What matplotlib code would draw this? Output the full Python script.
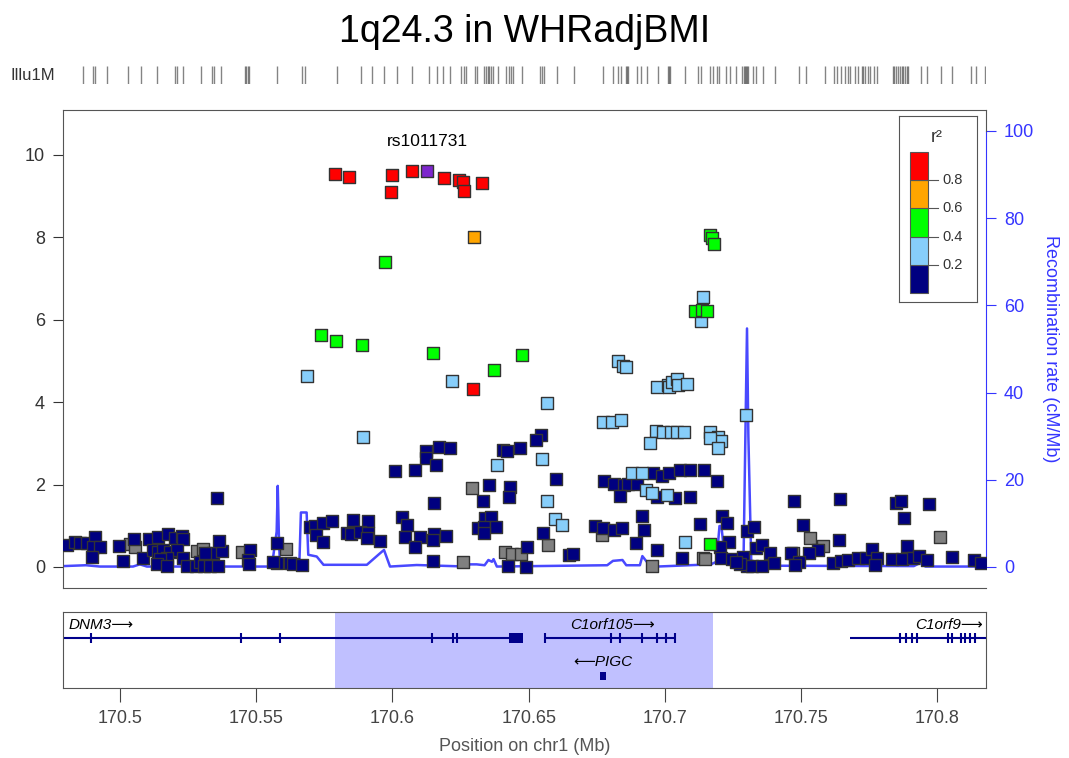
import matplotlib
matplotlib.use("Agg")
import matplotlib.pyplot as plt
from matplotlib.patches import Rectangle

plt.rcParams['font.family'] = ['Liberation Sans', 'DejaVu Sans']

# ---- data (position in Mb, -log10 p) ----
lead_pos = [170.6127]
lead_logp = [9.61]
lead_name = "rs1011731"

red_pos = [170.5789, 170.5840, 170.5998, 170.5995, 170.6072, 170.6189, 170.6244, 170.6259,
           170.6262, 170.6329, 170.6296]
red_logp = [9.54, 9.47, 9.51, 9.10, 9.61, 9.44, 9.39, 9.35, 9.13, 9.32, 4.32]

orange_pos = [170.6299]
orange_logp = [8.01]

green_pos = [170.5973, 170.5738, 170.5793, 170.5888, 170.6149, 170.6475, 170.6373, 170.7165,
             170.7173, 170.7180, 170.7110, 170.7136, 170.7154, 170.7165]
green_logp = [7.40, 5.63, 5.49, 5.39, 5.19, 5.15, 4.78, 8.06, 7.99, 7.84, 6.21, 6.24, 6.21, 0.56]

lblue_pos = [170.5686, 170.6218, 170.6567, 170.5892, 170.6384, 170.6549, 170.6567, 170.6596,
             170.6622, 170.6828, 170.6846, 170.6857, 170.6971, 170.7011, 170.7015, 170.7026,
             170.7044, 170.7048, 170.7081, 170.6773, 170.6806, 170.6839, 170.6967, 170.6993,
             170.7022, 170.7044, 170.7070, 170.6945, 170.7165, 170.7195, 170.7206, 170.7165,
             170.7195, 170.7297, 170.7140, 170.7132, 170.6879, 170.6916, 170.6930, 170.6952,
             170.7007, 170.7074]
lblue_logp = [4.64, 4.51, 3.98, 3.16, 2.48, 2.62, 1.60, 1.17,
              1.02, 5.00, 4.88, 4.85, 4.37, 4.42, 4.37, 4.49,
              4.56, 4.42, 4.44, 3.52, 3.52, 3.57, 3.30, 3.28,
              3.28, 3.28, 3.28, 3.01, 3.28, 3.16, 3.06, 3.13,
              2.89, 3.69, 6.55, 5.97, 2.28, 2.28, 1.87, 1.80,
              1.75, 0.61]

gray_pos = [170.6292, 170.6571, 170.6413, 170.6439, 170.6472, 170.6259, 170.6769, 170.6952,
            170.7140, 170.7147, 170.7532, 170.7580, 170.8009, 170.7470, 170.5037, 170.5055,
            170.5283, 170.5305, 170.5448, 170.5609]
gray_logp = [1.92, 0.53, 0.36, 0.32, 0.32, 0.12, 0.78, 0.02,
             0.22, 0.19, 0.71, 0.51, 0.72, 0.35, 0.56, 0.49,
             0.40, 0.43, 0.37, 0.43]

navy_pos = [170.4806, 170.4835, 170.4853, 170.4879, 170.4908, 170.4901, 170.4927, 170.4897,
            170.4996, 170.5011, 170.5051, 170.5084, 170.5106, 170.5139, 170.5176, 170.5202,
            170.5228, 170.5231, 170.5121, 170.5139, 170.5158, 170.5184, 170.5209, 170.5172,
            170.5147, 170.5136, 170.5172, 170.5231, 170.5246, 170.5279, 170.5294, 170.5308,
            170.5330, 170.5360, 170.5341, 170.5374, 170.5363, 170.5312, 170.5356, 170.5477,
            170.5470, 170.5473, 170.5576, 170.5576, 170.5562, 170.5624, 170.5635, 170.5668,
            170.5697, 170.5716, 170.5745, 170.5778, 170.5719, 170.5745,
            170.5855, 170.5910, 170.5833, 170.5848, 170.5881, 170.5910, 170.5906, 170.5954,
            170.6035, 170.6053, 170.6046, 170.6101, 170.6083, 170.6152, 170.6149, 170.6196,
            170.6149, 170.6009, 170.6123, 170.6171, 170.6211, 170.6123, 170.6160, 170.6083,
            170.6545, 170.6527, 170.6406, 170.6420, 170.6468, 170.6600, 170.6354, 170.6431,
            170.6428, 170.6332, 170.6152, 170.6552, 170.6340, 170.6362, 170.6314, 170.6336,
            170.6380, 170.6336, 170.6494, 170.6424, 170.6490,
            170.6776, 170.6813, 170.6850, 170.6864, 170.6897, 170.6956, 170.6989, 170.7015,
            170.7055, 170.7092, 170.7143, 170.7191, 170.6971, 170.7037, 170.7092, 170.6835,
            170.6916, 170.6923, 170.6894, 170.6971, 170.7063, 170.6743, 170.6773, 170.6813,
            170.6842, 170.6648, 170.6663, 170.7129, 170.7209, 170.7228, 170.7235, 170.7202,
            170.7206, 170.7246, 170.7286, 170.7301, 170.7327, 170.7301, 170.7319, 170.7334,
            170.7356, 170.7386, 170.7400, 170.7356, 170.7275, 170.7261,
            170.7474, 170.7642, 170.7848, 170.7866, 170.7969, 170.7877, 170.7507, 170.7639,
            170.7562, 170.7529, 170.7463, 170.7492, 170.7477, 170.7617, 170.7646, 170.7672,
            170.7708, 170.7738, 170.7760, 170.7778, 170.7771, 170.7833, 170.7870, 170.7888,
            170.7910, 170.7932, 170.7962, 170.8053, 170.8134, 170.8160]
navy_logp = [0.53, 0.61, 0.58, 0.58, 0.72, 0.49, 0.49, 0.25,
             0.51, 0.15, 0.67, 0.21, 0.68, 0.72, 0.80, 0.70,
             0.76, 0.67, 0.41, 0.37, 0.41, 0.37, 0.41, 0.23,
             0.19, 0.07, 0.02, 0.23, 0.02, 0.02, 0.12, 0.02,
             0.02, 0.02, 0.35, 0.39, 0.63, 0.35, 1.68, 0.41,
             0.17, 0.07, 0.59, 0.09, 0.12, 0.10, 0.07, 0.05,
             0.98, 1.00, 1.06, 1.12, 0.78, 0.61,
             1.14, 1.12, 0.83, 0.80, 0.85, 0.83, 0.70, 0.63,
             1.21, 1.02, 0.73, 0.73, 0.49, 0.80, 0.66, 0.75,
             0.15, 2.33, 2.82, 2.91, 2.89, 2.65, 2.48, 2.35,
             3.20, 3.08, 2.84, 2.82, 2.89, 2.13, 1.99, 1.94,
             1.70, 1.60, 1.55, 0.83, 1.19, 1.21, 0.95, 0.97,
             0.97, 0.83, 0.49, 0.02, 0.00,
             2.09, 2.01, 1.99, 2.01, 2.01, 2.28, 2.21, 2.28,
             2.35, 2.35, 2.35, 2.09, 1.70, 1.67, 1.70, 1.72,
             1.24, 0.90, 0.58, 0.41, 0.22, 1.00, 0.95, 0.90,
             0.95, 0.29, 0.32, 1.04, 1.24, 1.07, 0.61, 0.49,
             0.22, 0.19, 0.25, 0.87, 0.98, 0.02, 0.02, 0.45,
             0.53, 0.33, 0.10, 0.02, 0.07, 0.12,
             1.60, 1.65, 1.56, 1.61, 1.54, 1.18, 1.01, 0.66,
             0.41, 0.33, 0.35, 0.13, 0.05, 0.09, 0.15, 0.17,
             0.21, 0.23, 0.44, 0.23, 0.05, 0.19, 0.19, 0.51,
             0.23, 0.27, 0.17, 0.25, 0.17, 0.09]

# recombination rate (cM/Mb)
recomb_pos = [170.4791, 170.4875, 170.4927, 170.5048, 170.5073, 170.5099, 170.5557, 170.5563,
              170.5575, 170.5579, 170.5584, 170.5588, 170.5658, 170.5664, 170.5685, 170.5691,
              170.5722, 170.5747, 170.5906, 170.5961, 170.5969, 170.5991, 170.6089, 170.6273,
              170.6285, 170.6309, 170.6338, 170.6352, 170.6365, 170.6371, 170.6383, 170.6788,
              170.6809, 170.6844, 170.6858, 170.6908, 170.6917, 170.6943, 170.6971, 170.7168,
              170.7189, 170.7200, 170.7207, 170.7218, 170.7233, 170.7288, 170.7295, 170.7301,
              170.7306, 170.7317, 170.7913, 170.7935, 170.7956, 170.8178]
recomb_rate = [0.2, 0.4, 0.1, 0.1, 0.6, 0.1, 0.1, 2.7,
               8.1, 18.6, 5.0, 0.1, 0.1, 12.5, 12.5, 2.8,
               2.4, 0.5, 0.5, 3.5, 3.9, 0.1, 0.45, 0.1,
               0.6, 0.6, 0.4, 1.6, 1.2, 1.8, 0.1, 0.4,
               1.4, 1.6, 0.4, 0.4, 2.5, 0.4, 0.1, 0.6,
               1.2, 9.4, 9.4, 3.0, 0.8, 0.5, 30.0, 54.7,
               30.0, 0.3, 0.2, 0.9, 0.1, 0.1]

# Illumina 1M array SNP positions
illu_pos = [170.4864, 170.4900, 170.4909, 170.4951, 170.5029, 170.5078, 170.5137, 170.5201,
            170.5210, 170.5233, 170.5296, 170.5337, 170.5344, 170.5370, 170.5459, 170.5464,
            170.5469, 170.5474, 170.5575, 170.5668, 170.5680, 170.5798, 170.5883, 170.5925,
            170.5969, 170.6017, 170.6071, 170.6134, 170.6162, 170.6185, 170.6210, 170.6252,
            170.6261, 170.6268, 170.6302, 170.6312, 170.6337, 170.6344, 170.6350, 170.6356,
            170.6363, 170.6369, 170.6386, 170.6416, 170.6427, 170.6436, 170.6442, 170.6477,
            170.6543, 170.6549, 170.6555, 170.6604, 170.6666, 170.6771, 170.6809, 170.6828,
            170.6837, 170.6857, 170.6862, 170.6866, 170.6898, 170.6911, 170.6933, 170.6974,
            170.7012, 170.7016, 170.7018, 170.7073, 170.7120, 170.7132, 170.7164, 170.7177,
            170.7190, 170.7200, 170.7225, 170.7238, 170.7259, 170.7281, 170.7291, 170.7295,
            170.7299, 170.7302, 170.7306, 170.7323, 170.7335, 170.7361, 170.7402, 170.7491,
            170.7519, 170.7586, 170.7621, 170.7633, 170.7646, 170.7659, 170.7671, 170.7678,
            170.7697, 170.7707, 170.7722, 170.7728, 170.7735, 170.7745, 170.7754, 170.7766,
            170.7779, 170.7836, 170.7842, 170.7849, 170.7855, 170.7862, 170.7868, 170.7874,
            170.7881, 170.7887, 170.7893, 170.7938, 170.7961, 170.8014, 170.8054, 170.8122,
            170.8143, 170.8175]

# genes
dnm3_span = (170.4700, 170.6480)
dnm3_exons = [170.4892, 170.5443, 170.5586, 170.6144, 170.6223, 170.6238]
dnm3_utr = (170.6429, 170.6480)
c1orf105_span = (170.6560, 170.7037)
c1orf105_exons = [170.6560, 170.6802, 170.6835, 170.6915, 170.6972, 170.7004, 170.7037]
pigc_span = (170.6762, 170.6784)
c1orf9_span = (170.7679, 170.8300)
c1orf9_exons = [170.7863, 170.7883, 170.7906, 170.7924, 170.8040, 170.8052, 170.8085,
                170.8101, 170.8120, 170.8138]
highlight = (170.5789, 170.7176)

xticks = [170.5, 170.55, 170.6, 170.65, 170.7, 170.75, 170.8]
xtick_labels = ['170.5', '170.55', '170.6', '170.65', '170.7', '170.75', '170.8']
r2_breaks = [0.2, 0.4, 0.6, 0.8]
r2_colors = ['#000080', '#87CEFA', '#00FF00', '#FFA500', '#FF0000']

XLIM = (170.4791, 170.8178)
W, H = 1069, 758


def box(l, t, r, b):
    return [l / W, 1 - b / H, (r - l) / W, (b - t) / H]


fig = plt.figure(figsize=(W / 100, H / 100), dpi=100)
frame_col = '#555555'
blue = '#3535FF'

# ---- main panel ----
ax = fig.add_axes(box(63, 110, 986, 588))
ax2 = ax.twinx()
ax.set_zorder(ax2.get_zorder() + 1)
ax.patch.set_visible(False)

ax2.plot(recomb_pos, recomb_rate, color=blue, lw=1.8, alpha=0.9)
ax2.set_ylim(-4.82, 104.8)
ax2.set_yticks([0, 20, 40, 60, 80, 100])
ax2.tick_params(axis='y', colors=blue, labelsize=13, length=7, pad=6)
for s in ['left', 'top', 'bottom']:
    ax2.spines[s].set_visible(False)
ax2.spines['right'].set_color(blue)
ax2.spines['right'].set_bounds(0, 100)
ax2.set_ylabel('Recombination rate (cM/Mb)', color=blue, fontsize=13,
               rotation=270, labelpad=18)

mk = dict(marker='s', s=85, edgecolors='#333333', linewidths=1.0)
ax.scatter(gray_pos, gray_logp, c='#808080', zorder=3, **mk)
ax.scatter(navy_pos, navy_logp, c=r2_colors[0], zorder=3, **mk)
ax.scatter(lblue_pos, lblue_logp, c=r2_colors[1], zorder=4, **mk)
ax.scatter(green_pos, green_logp, c=r2_colors[2], zorder=5, **mk)
ax.scatter(orange_pos, orange_logp, c=r2_colors[3], zorder=6, **mk)
ax.scatter(red_pos, red_logp, c=r2_colors[4], zorder=7, **mk)
ax.scatter(lead_pos, lead_logp, c='#7D26CD', zorder=8, **mk)
ax.annotate(lead_name, (lead_pos[0], lead_logp[0]), xytext=(0, 21),
            textcoords='offset points', ha='center', va='center', fontsize=12.5)

ax.set_xlim(XLIM)
ylo, yhi = -0.51, 11.09
ax.set_ylim(ylo, yhi)
ax.set_xticks([])
ax.set_yticks([0, 2, 4, 6, 8, 10])
ax.tick_params(axis='y', labelsize=13, labelcolor='#333333', color='#333333', length=7, pad=6)
for s in ax.spines.values():
    s.set_color(frame_col)
ax.spines['right'].set_bounds(ylo + (100 + 4.82) / (104.8 + 4.82) * (yhi - ylo), yhi)

# ---- legend ----
leg = fig.add_axes(box(899, 116, 977, 302))
leg.set_xlim(0, 1)
leg.set_ylim(-0.061, 1.252)
leg.set_xticks([])
leg.set_yticks([])
for s in leg.spines.values():
    s.set_color(frame_col)
for i, col in enumerate(r2_colors):
    leg.add_patch(Rectangle((0.141, i * 0.2), 0.235, 0.2, facecolor=col,
                            edgecolor='#555555', lw=0.8))
for v in r2_breaks:
    leg.plot([0.376, 0.5], [v, v], color='#555555', lw=0.8)
    leg.text(0.56, v, f'{v:.1f}', va='center', ha='left', fontsize=10.5, color='#333333')
leg.text(0.49, 1.10, 'r²', ha='center', va='center', fontsize=13, color='#333333')

# ---- Illumina 1M track ----
ill = fig.add_axes(box(63, 66, 986, 84))
ill.set_xlim(XLIM)
ill.set_ylim(0, 1)
ill.vlines(illu_pos, 0, 1, color='#333333', alpha=0.6, lw=1.0)
ill.axis('off')
fig.text(10 / W, 1 - 75 / H, 'Illu1M', fontsize=12, va='center', ha='left', color='#333333')

# ---- gene panel ----
gax = fig.add_axes(box(63, 612, 986, 688))
gax.set_xlim(XLIM)
gax.set_ylim(0, 1)
gax.axvspan(*highlight, color='#C0C0FF', zorder=0, lw=0)
gcol = '#00008B'
ytop, ybot = 0.658, 0.158
eh = 0.068


def draw_gene(span, exons, y):
    gax.plot(span, [y, y], color=gcol, lw=1.5, solid_capstyle='butt')
    gax.vlines(exons, y - eh, y + eh, color=gcol, lw=1.5)


draw_gene(dnm3_span, dnm3_exons, ytop)
gax.add_patch(Rectangle((dnm3_utr[0], ytop - eh), dnm3_utr[1] - dnm3_utr[0], 2 * eh,
                        color=gcol, lw=0))
draw_gene(c1orf105_span, c1orf105_exons, ytop)
draw_gene(c1orf9_span, c1orf9_exons, ytop)
gax.add_patch(Rectangle((pigc_span[0], ybot - eh / 1.4), pigc_span[1] - pigc_span[0],
                        2 * eh / 1.4, color=gcol, lw=0))

gfs = 11
gtxt = dict(style='italic', fontsize=gfs, va='center', family=['Liberation Sans', 'DejaVu Sans'])
gax.text(170.4810, 0.83, 'DNM3⟶', ha='left', **gtxt)
gax.text(170.6806, 0.83, 'C1orf105⟶', ha='center', **gtxt)
gax.text(170.8167, 0.83, 'C1orf9⟶', ha='right', **gtxt)
gax.text(170.6773, 0.34, '⟵PIGC', ha='center', **gtxt)

gax.set_yticks([])
gax.set_xticks(xticks)
gax.set_xticklabels(xtick_labels)
gax.tick_params(axis='x', labelsize=13, labelcolor='#444444', color='#444444', length=10, pad=6)
for s in gax.spines.values():
    s.set_color(frame_col)
gax.set_xlabel('Position on chr1 (Mb)', fontsize=13, color='#555555', labelpad=8)

fig.text(524.5 / W, 1 - 32 / H, '1q24.3 in WHRadjBMI', ha='center', va='center', fontsize=27)

fig.savefig('out.png', dpi=100)
